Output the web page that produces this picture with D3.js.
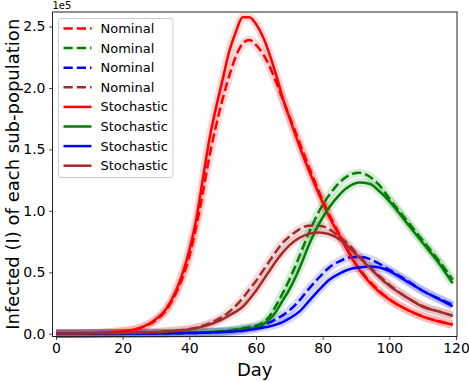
<!DOCTYPE html>
<html>
<head>
<meta charset="utf-8">
<script src="https://cdn.jsdelivr.net/npm/d3@7"></script>
<style>
  body { margin: 0; background: #fff; }
  text { font-family: "DejaVu Sans", sans-serif; fill: #000; }
</style>
</head>
<body>
<svg id="chart" width="469" height="381"></svg>
<script>
"use strict";

var days = [0, 10, 20, 25, 30, 33, 36, 40, 42, 44, 46, 48, 50, 52, 54, 56, 58, 60, 62, 64,
  66, 68, 70, 73, 76, 79, 82, 85, 88, 91, 94, 97, 100, 105, 110, 115, 119];

var redNominal = [0.001, 0.004, 0.02, 0.045, 0.11, 0.19, 0.33, 0.63, 0.86, 1.14, 1.44, 1.69, 1.91, 2.10, 2.26, 2.36, 2.39, 2.35, 2.28, 2.18,
  2.05, 1.91, 1.77, 1.56, 1.35, 1.15, 0.97, 0.81, 0.66, 0.53, 0.43, 0.35, 0.28, 0.20, 0.14, 0.10, 0.075];
var greenNominal = [0.0005, 0.001, 0.002, 0.003, 0.004, 0.005, 0.006, 0.008, 0.01, 0.012, 0.015, 0.018, 0.022, 0.028, 0.036, 0.045, 0.055, 0.065, 0.09, 0.14,
  0.23, 0.33, 0.44, 0.63, 0.83, 1.0, 1.13, 1.23, 1.29, 1.31, 1.28, 1.21, 1.10, 0.93, 0.76, 0.59, 0.44];
var blueNominal = [0.0005, 0.001, 0.002, 0.002, 0.003, 0.004, 0.005, 0.006, 0.007, 0.009, 0.011, 0.013, 0.016, 0.02, 0.025, 0.035, 0.045, 0.055, 0.07, 0.09,
  0.12, 0.15, 0.19, 0.27, 0.37, 0.46, 0.54, 0.59, 0.62, 0.625, 0.61, 0.57, 0.52, 0.44, 0.35, 0.285, 0.235];
var brownNominal = [0.002, 0.003, 0.006, 0.009, 0.014, 0.018, 0.024, 0.04, 0.05, 0.065, 0.085, 0.11, 0.14, 0.18, 0.23, 0.29, 0.36, 0.43, 0.51, 0.59,
  0.67, 0.74, 0.79, 0.85, 0.88, 0.88, 0.85, 0.79, 0.72, 0.63, 0.55, 0.47, 0.40, 0.30, 0.225, 0.18, 0.148];

var redStochastic = [0.001, 0.004, 0.02, 0.045, 0.12, 0.20, 0.35, 0.68, 0.92, 1.25, 1.58, 1.84, 2.07, 2.30, 2.46, 2.575, 2.575, 2.52, 2.42, 2.28,
  2.11, 1.92, 1.76, 1.53, 1.32, 1.13, 0.95, 0.80, 0.65, 0.52, 0.42, 0.34, 0.28, 0.20, 0.14, 0.10, 0.075];
var greenStochastic = [0.0005, 0.001, 0.002, 0.003, 0.004, 0.005, 0.006, 0.008, 0.009, 0.011, 0.013, 0.016, 0.02, 0.025, 0.032, 0.04, 0.045, 0.05, 0.075, 0.115,
  0.18, 0.27, 0.36, 0.53, 0.73, 0.90, 1.03, 1.13, 1.20, 1.23, 1.22, 1.16, 1.08, 0.91, 0.74, 0.57, 0.41];
var blueStochastic = [0.0005, 0.001, 0.002, 0.002, 0.003, 0.004, 0.005, 0.006, 0.007, 0.008, 0.01, 0.012, 0.014, 0.017, 0.021, 0.025, 0.032, 0.04, 0.05, 0.06,
  0.075, 0.095, 0.125, 0.18, 0.27, 0.36, 0.44, 0.49, 0.525, 0.54, 0.547, 0.54, 0.51, 0.43, 0.35, 0.28, 0.225];
var brownStochastic = [0.002, 0.003, 0.006, 0.009, 0.013, 0.017, 0.022, 0.035, 0.045, 0.058, 0.075, 0.095, 0.12, 0.15, 0.18, 0.22, 0.28, 0.35, 0.43, 0.51,
  0.59, 0.66, 0.72, 0.78, 0.815, 0.825, 0.81, 0.77, 0.70, 0.62, 0.54, 0.46, 0.39, 0.30, 0.22, 0.18, 0.146];

var xTicks = [0, 20, 40, 60, 80, 100, 120];
var yTicks = [0, 0.5, 1.0, 1.5, 2.0, 2.5];

var series = [
  { name: "Nominal", color: "#ff0000", dashed: true, values: redNominal },
  { name: "Nominal", color: "#008000", dashed: true, values: greenNominal },
  { name: "Nominal", color: "#0000ff", dashed: true, values: blueNominal },
  { name: "Nominal", color: "#a52a2a", dashed: true, values: brownNominal },
  { name: "Stochastic", color: "#ff0000", dashed: false, values: redStochastic },
  { name: "Stochastic", color: "#008000", dashed: false, values: greenStochastic },
  { name: "Stochastic", color: "#0000ff", dashed: false, values: blueStochastic },
  { name: "Stochastic", color: "#a52a2a", dashed: false, values: brownStochastic }
];

var svg = d3.select("#chart");
var plotLeft = 52.5, plotRight = 457, plotTop = 12, plotBottom = 336.5;

var x = d3.scaleLinear().domain([-1.05, 120.3]).range([plotLeft, plotRight]);
var y = d3.scaleLinear().domain([-0.022, 2.618]).range([plotBottom, plotTop]);

var line = d3.line()
  .x(function(d, i) { return x(days[i]) })
  .y(function(d) { return y(d) })
  .curve(d3.curveMonotoneX);

var plot = svg.append("g");

// shaded bands first, then the lines on top
plot.selectAll("path.band")
  .data(series)
  .enter()
  .append("path")
    .attr("class", "band")
    .attr("d", function(d) { return line(d.values) })
    .style("fill", "none")
    .style("stroke", function(d) { return d.color })
    .style("stroke-opacity", 0.15)
    .style("stroke-width", 8.5);

plot.selectAll("path.curve")
  .data(series)
  .enter()
  .append("path")
    .attr("class", "curve")
    .attr("d", function(d) { return line(d.values) })
    .style("fill", "none")
    .style("stroke", function(d) { return d.color })
    .style("stroke-width", 2.5)
    .style("stroke-dasharray", function(d) { return d.dashed ? "9.25,4" : null });

// axes
var xAxis = svg.append("g")
  .attr("transform", "translate(0," + plotBottom + ")")
  .call(d3.axisBottom(x).tickValues(xTicks).tickSize(3.5).tickPadding(3.5).tickFormat(d3.format("d")));
var yAxis = svg.append("g")
  .attr("transform", "translate(" + plotLeft + ",0)")
  .call(d3.axisLeft(y).tickValues(yTicks).tickSize(3.5).tickPadding(3.5).tickFormat(d3.format(".1f")));

[xAxis, yAxis].forEach(function(a) {
  a.select(".domain").remove();
  a.selectAll("line").style("stroke", "#222").style("stroke-width", 0.8);
  a.selectAll("text").style("font-size", "14px").style("font-family", "DejaVu Sans, sans-serif");
});

svg.append("rect")
  .attr("x", plotLeft).attr("y", plotTop)
  .attr("width", plotRight - plotLeft).attr("height", plotBottom - plotTop)
  .style("fill", "none").style("stroke", "#222").style("stroke-width", 1);

svg.append("text")
  .attr("x", plotLeft).attr("y", 9)
  .style("font-size", "10px")
  .text("1e5");

svg.append("text")
  .attr("x", (plotLeft + plotRight) / 2).attr("y", 376)
  .attr("text-anchor", "middle")
  .style("font-size", "18px")
  .text("Day");

svg.append("text")
  .attr("transform", "translate(19," + ((plotTop + plotBottom) / 2) + ") rotate(-90)")
  .attr("text-anchor", "middle")
  .style("font-size", "18px")
  .text("Infected (I) of each sub-population");

// legend
var lg = svg.append("g").attr("transform", "translate(58.5,18.5)");
lg.append("rect")
  .attr("width", 114.5).attr("height", 159)
  .attr("rx", 2.5)
  .style("fill", "#fff").style("fill-opacity", 0.8)
  .style("stroke", "#cccccc").style("stroke-width", 1);

var item = lg.selectAll("g.item")
  .data(series)
  .enter()
  .append("g")
    .attr("class", "item")
    .attr("transform", function(d, i) { return "translate(0," + (10 + i * 19.6) + ")" });

item.append("line")
  .attr("x1", 5).attr("x2", 33)
  .style("stroke", function(d) { return d.color })
  .style("stroke-width", 2.5)
  .style("stroke-dasharray", function(d) { return d.dashed ? "9.25,4" : null });

item.append("text")
  .attr("x", 42).attr("y", 4.5)
  .style("font-size", "13px")
  .text(function(d) { return d.name });
</script>
</body>
</html>
